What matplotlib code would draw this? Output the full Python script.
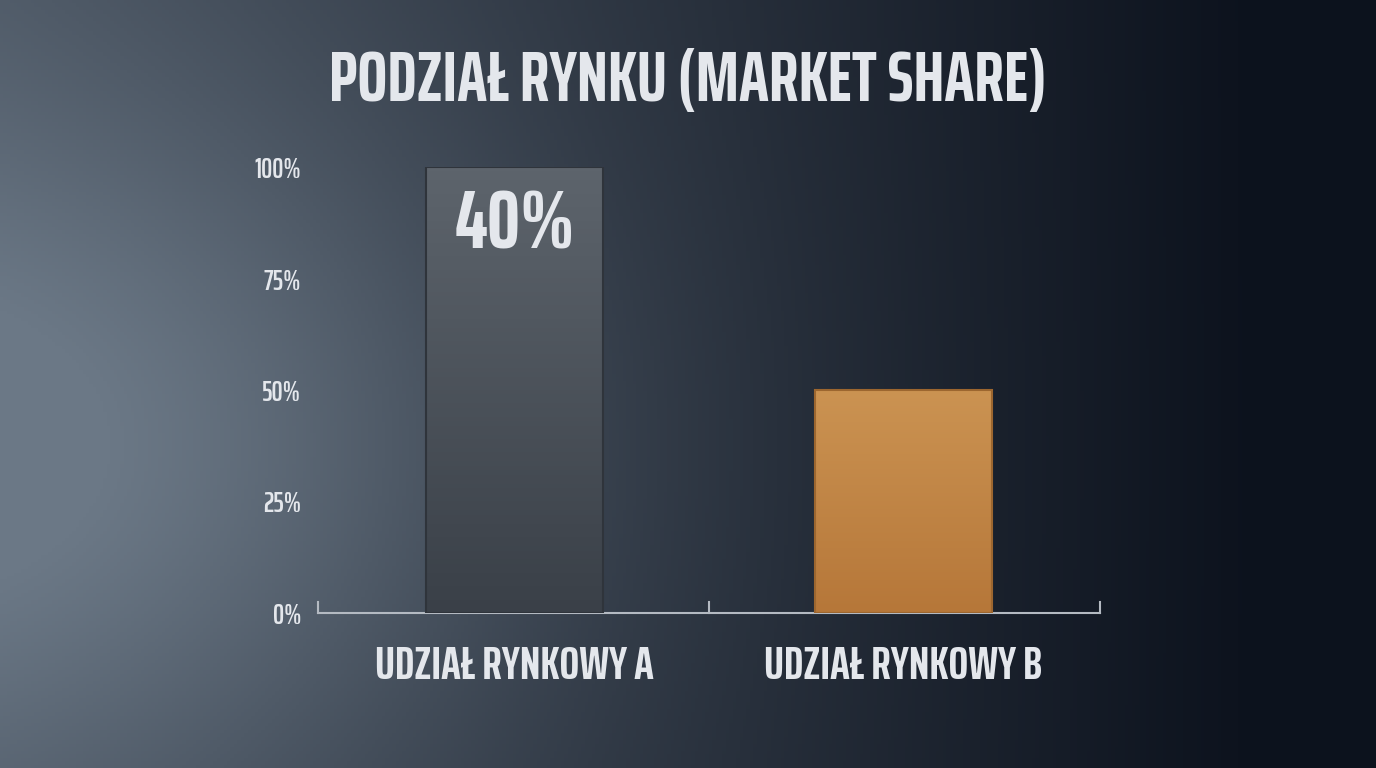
import numpy as np
import matplotlib.pyplot as plt
from matplotlib.colors import to_rgb

categories = ['UDZIAŁ RYNKOWY A', 'UDZIAŁ RYNKOWY B']
values = [100, 50]
bar_labels = ['40%', '']
yticks = [0, 25, 50, 75, 100]
ytick_labels = ['0%', '25%', '50%', '75%', '100%']
title = 'PODZIAŁ RYNKU (MARKET SHARE)'

font = ['Saira ExtraCondensed', 'DejaVu Sans']
txt = '#e4e7ec'

fig = plt.figure(figsize=(13.76, 7.68), dpi=100)

# background gradient (light grey-blue on the left, dark navy on the right)
bg = fig.add_axes([0, 0, 1, 1])
xx, yy = np.meshgrid(np.linspace(0, 1, 400), np.linspace(0, 1, 220))
glow = np.exp(-((xx - 0.04) ** 2 / 0.13 + (yy - 0.58) ** 2 / 0.22))
t = np.clip(0.36 + 0.70 * xx - 0.42 * glow, 0, 1)
left = np.array([0x6b, 0x78, 0x86]) / 255
right = np.array([0x0c, 0x12, 0x1d]) / 255
img = left[None, None, :] * (1 - t[..., None]) + right[None, None, :] * t[..., None]
bg.imshow(img, aspect='auto', extent=[0, 1, 0, 1], origin='upper')
bg.axis('off')

ax = fig.add_axes([318 / 1376, 1 - 613 / 768, 782 / 1376, 446 / 768])
ax.patch.set_alpha(0)
x = np.arange(len(categories))
bars = ax.bar(x, values, width=0.455, color=['#4a5059', '#c2884a'], zorder=2)

# vertical shading inside each bar
grads = [('#5d646c', '#3a4048'), ('#cb9352', '#b67739')]
edges = ['#2f343b', '#9c662f']
for b, (c_top, c_bot), ec in zip(bars, grads, edges):
    x0, y0 = b.get_x(), b.get_y()
    w, h = b.get_width(), b.get_height()
    s = np.linspace(0, 1, 100)[:, None]
    g = np.array(to_rgb(c_top)) * (1 - s) + np.array(to_rgb(c_bot)) * s
    im = ax.imshow(g[:, None, :], aspect='auto', extent=[x0, x0 + w, y0, y0 + h],
                   origin='upper', zorder=3)
    im.set_clip_path(b)
    ax.bar(x0 + w / 2, h, width=w, fill=False, edgecolor=ec, lw=1.5, zorder=3.5)

for i, lab in enumerate(bar_labels):
    if lab:
        ax.text(x[i], values[i] - 13.2, lab, ha='center', va='center', color=txt,
                fontsize=60, fontweight='bold', family=font, zorder=4)

ax.set_xlim(-0.505, 1.505)
ax.set_ylim(0, 100)
ax.set_yticks(yticks)
ax.set_yticklabels(ytick_labels)
ax.set_xticks([])
for sp in ['top', 'right', 'left']:
    ax.spines[sp].set_visible(False)
ax.spines['bottom'].set_color('#b4bac2')
ax.spines['bottom'].set_linewidth(1.5)
ax.tick_params(axis='y', length=0, pad=12, labelcolor=txt, labelsize=20)
for lab in ax.get_yticklabels():
    lab.set_family(font)
    lab.set_fontweight(600)

# small upward ticks on the baseline
for xt in [-0.505, 0.5, 1.505]:
    ax.plot([xt, xt], [0, 2.5], color='#b4bac2', lw=1.5, clip_on=False, zorder=1)

for i, c in enumerate(categories):
    ax.text(x[i], -12.0, c, ha='center', va='center', color=txt, fontsize=33.5,
            fontweight='bold', family=font)

fig.text(0.5, 1 - 82 / 768, title, ha='center', va='center', color=txt,
         fontsize=51, fontweight='bold', family=font)

fig.savefig('out.png', dpi=100)
